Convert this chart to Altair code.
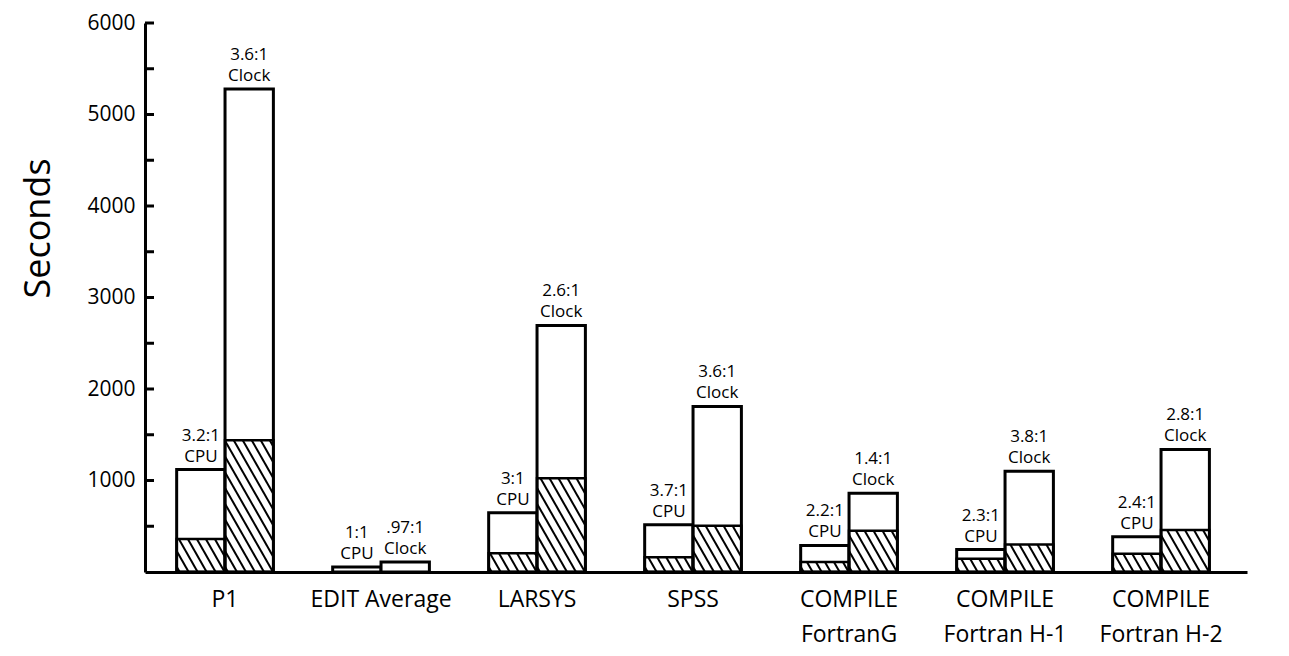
import altair as alt
import pandas as pd

# ---- data ----
groups = ["P1", "EDIT Average", "LARSYS", "SPSS",
          "COMPILE\nFortranG", "COMPILE\nFortran H-1", "COMPILE\nFortran H-2"]
cpu_total = [1120, 54, 647, 517, 290, 245, 385]
cpu_new = [360, 0, 205, 162, 110, 145, 200]
clock_total = [5280, 108, 2694, 1810, 860, 1100, 1340]
clock_new = [1440, 0, 1024, 506, 450, 300, 460]
cpu_ratio = ["3.2:1", "1:1", "3:1", "3.7:1", "2.2:1", "2.3:1", "2.4:1"]
clock_ratio = ["3.6:1", ".97:1", "2.6:1", "3.6:1", "1.4:1", "3.8:1", "2.8:1"]
kinds = ["CPU", "Clock"]
y_label_values = [1000, 2000, 3000, 4000, 5000, 6000]
y_tick_values = [500, 1000, 1500, 2000, 2500, 3000, 3500, 4000, 4500, 5000, 5500, 6000]

# ---- layout / style constants ----
W, H = 1102, 549
X_DOMAIN = [-0.513, 6.551]
Y_DOMAIN = [0, 6000]
BAR_W = 0.31
HATCH_STEP = 9.0    # px between hatch lines
HATCH_SLOPE = 1.75  # steepness of hatch lines
FONT = "Open Sans"
Y_TITLE = "Seconds"

rows = []
for i, g in enumerate(groups):
    for k, tot, new, rat in ((kinds[0], cpu_total[i], cpu_new[i], cpu_ratio[i]),
                             (kinds[1], clock_total[i], clock_new[i], clock_ratio[i])):
        xl = i - BAR_W if k == "CPU" else i
        xr = i if k == "CPU" else i + BAR_W
        rows.append(dict(group=g, kind=k, x_left=xl, x_right=xr,
                         x_mid=(xl + xr) / 2, total=tot, new=new, ratio=rat, zero=0))
bars = pd.DataFrame(rows)

# hatch segments, derived from the bar values through the scale factors
px_x = W / (X_DOMAIN[1] - X_DOMAIN[0])
px_y = H / (Y_DOMAIN[1] - Y_DOMAIN[0])
segs = []
for r in rows:
    if r["new"] <= 0:
        continue
    ua, ub = r["x_left"] * px_x, r["x_right"] * px_x
    hp = r["new"] * px_y
    s = HATCH_SLOPE
    c = ua + 3
    while c < ub + hp / s:
        v_lo = max(0.0, s * (c - ub))
        v_hi = min(hp, s * (c - ua))
        if v_hi - v_lo > 1:
            segs.append(dict(x=(c - v_lo / s) / px_x, y=v_lo / px_y,
                             x2=(c - v_hi / s) / px_x, y2=v_hi / px_y))
        c += HATCH_STEP
hatch = pd.DataFrame(segs)

labels = pd.DataFrame(dict(x=list(range(len(groups))), label=groups))
ticks = pd.DataFrame(dict(v=y_tick_values))

xs = alt.Scale(domain=X_DOMAIN, nice=False, zero=False)
ys = alt.Scale(domain=Y_DOMAIN, nice=False)

x_axis = alt.Axis(labels=False, ticks=False, title=None, grid=False,
                  domainWidth=3, domainColor="black")
y_axis = alt.Axis(values=y_label_values, format="d", ticks=False, grid=False,
                  domainWidth=3, domainColor="black",
                  labelFontSize=21, labelPadding=10, labelColor="black",
                  labelFont=FONT,
                  titleFontSize=36, titleFontWeight="normal",
                  titleFont=FONT, titleColor="black",
                  titleX=-96, titleY=205, titleBaseline="alphabetic")


def X(field):
    return alt.X(field, scale=xs, axis=x_axis, title=None)


def Y(field):
    return alt.Y(field, scale=ys, axis=y_axis, title=Y_TITLE)


base_bars = alt.Chart(bars)

total_layer = base_bars.mark_rect(fill="white", stroke="black", strokeWidth=3).encode(
    x=X("x_left:Q"), x2="x_right:Q",
    y=Y("total:Q"), y2="zero:Q",
)

hatch_layer = alt.Chart(hatch).mark_rule(color="black", strokeWidth=2).encode(
    x=X("x:Q"), y=Y("y:Q"), x2="x2:Q", y2="y2:Q",
)

new_layer = base_bars.transform_filter("datum.new > 0").mark_rect(
    fill="transparent", stroke="black", strokeWidth=2.5).encode(
    x=X("x_left:Q"), x2="x_right:Q",
    y=Y("new:Q"), y2="zero:Q",
)

kind_text = base_bars.mark_text(baseline="alphabetic", dy=-8, fontSize=17,
                                font=FONT, color="black").encode(
    x=X("x_mid:Q"), y=Y("total:Q"), text="kind:N",
)
ratio_text = base_bars.mark_text(baseline="alphabetic", dy=-29, fontSize=17,
                                 font=FONT, color="black").encode(
    x=X("x_mid:Q"), y=Y("total:Q"), text="ratio:N",
)

cat_text = alt.Chart(labels).mark_text(baseline="top", lineBreak="\n", lineHeight=35,
                                       fontSize=23, font=FONT, color="black").encode(
    x=X("x:Q"),
    y=alt.value(H + 17),
    text="label:N",
)

tick_layer = alt.Chart(ticks).mark_rule(color="black", strokeWidth=3).encode(
    y=Y("v:Q"),
    x=alt.value(0),
    x2=alt.value(9),
)

chart = alt.layer(total_layer, hatch_layer, new_layer, kind_text, ratio_text,
                  cat_text, tick_layer).properties(
    width=W, height=H,
    autosize=alt.AutoSizeParams(type="none"),
    padding={"left": 137, "top": 15, "right": 30, "bottom": 76},
).configure(font=FONT).configure_view(stroke=None)

chart.save("out.html", embed_options={"renderer": "svg", "actions": False})
